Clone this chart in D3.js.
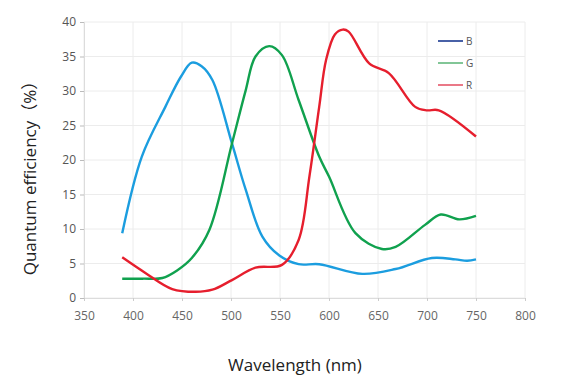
<!DOCTYPE html>
<html><head><meta charset="utf-8">
<script src="https://cdn.jsdelivr.net/npm/d3@7"></script>
<style>body{margin:0;background:#fff}svg{display:block}</style>
</head><body><svg id="c" width="570" height="387"></svg>
<script>
const xTicks = [350,400,450,500,550,600,650,700,750,800];
const yTicks = [0,5,10,15,20,25,30,35,40];
const seriesNames = ["B","G","R"];
const blueWl  = [389,409,433,449,460,470,481,501,515,532,549,569,590,634,668,705,729,741,750];
const blueVal = [9.4,20.5,27.7,32.1,34.1,33.6,31.6,22.4,15.7,8.9,6.2,4.9,4.9,3.5,4.2,5.8,5.6,5.4,5.6];
const greenWl  = [389,410,430,445,460,478,501,515,525,539,552,569,590,600,627,654,668,698,714,733,750];
const greenVal = [2.8,2.8,2.9,4.0,5.8,9.9,22.4,30.1,35.0,36.5,35.2,28.7,20.5,17.6,9.4,7.1,7.4,10.6,12.1,11.4,11.9];
const redWl  = [389,413,440,464,481,501,525,552,569,580,590,597,606,614,620,641,661,688,700,712,750];
const redVal = [5.9,3.6,1.3,0.9,1.2,2.6,4.4,4.8,8.4,17.6,27.7,34.5,38.2,38.9,38.6,34.0,32.6,27.7,27.2,27.2,23.4];
const lineColors = ["#1b9ddf","#10a14e","#e61e2d"];
const legendColors = ["#34509e","#74c08c","#e8697a"];

const svg = d3.select("#c");
const x = d3.scaleLinear().domain([350,800]).range([84,525]);
const y = d3.scaleLinear().domain([0,40]).range([298,22]);

// grid
svg.append("g").selectAll("line").data(yTicks).join("line")
  .attr("x1",x(350)).attr("x2",x(800)).attr("y1",d=>y(d)).attr("y2",d=>y(d))
  .attr("stroke","#ececec").attr("stroke-width",1);
svg.append("g").selectAll("line").data(xTicks).join("line")
  .attr("x1",d=>x(d)).attr("x2",d=>x(d)).attr("y1",y(0)).attr("y2",y(40))
  .attr("stroke","#ececec").attr("stroke-width",1);

// axes
const yAxis = svg.append("g").attr("transform",`translate(${x(350)},0)`)
  .call(d3.axisLeft(y).tickValues(yTicks).tickSize(4).tickPadding(4));
yAxis.select(".domain").attr("stroke","#dcdcdc");
yAxis.selectAll(".tick line").attr("stroke","#bbb");
yAxis.selectAll("text").attr("fill","#555").style("font-size","12px").style("font-family","'Open Sans', sans-serif");

const xAxis = svg.append("g").attr("transform",`translate(0,${y(0)})`)
  .call(d3.axisBottom(x).tickValues(xTicks).tickSize(3).tickPadding(10));
xAxis.select(".domain").attr("stroke","#dcdcdc");
xAxis.selectAll(".tick line").attr("stroke","#ccc");
xAxis.selectAll("text").attr("fill","#666").style("font-size","12px").style("font-family","'Open Sans', sans-serif");

// lines
const line = d3.line().x(d=>x(d[0])).y(d=>y(d[1])).curve(d3.curveCatmullRom.alpha(0.5));
const data = [d3.zip(blueWl,blueVal), d3.zip(greenWl,greenVal), d3.zip(redWl,redVal)];
data.forEach((pts,i)=>{
  svg.append("path").datum(pts).attr("d",line).attr("fill","none")
    .attr("stroke",lineColors[i]).attr("stroke-width",2.4).attr("stroke-linejoin","round");
});

// legend
const lg = svg.append("g");
seriesNames.forEach((n,i)=>{
  const yy = 41 + i*22;
  lg.append("line").attr("x1",438).attr("x2",463).attr("y1",yy).attr("y2",yy)
    .attr("stroke",legendColors[i]).attr("stroke-width",1.8);
  lg.append("text").attr("x",466).attr("y",yy+4).text(n)
    .attr("fill","#555").style("font-size","10px").style("font-family","'Open Sans', sans-serif");
});

// titles
svg.append("text").attr("x",295).attr("y",371).attr("text-anchor","middle")
  .text("Wavelength (nm)").attr("fill","#222").style("font-size","17px").style("font-family","'Open Sans', sans-serif");
svg.append("text").attr("transform","translate(36,174) rotate(-90)").attr("text-anchor","middle")
  .text("Quantum efficiency（%）").attr("fill","#222").style("font-size","17px").style("font-family","'Open Sans', 'Noto Sans CJK SC', sans-serif");
</script></body></html>
